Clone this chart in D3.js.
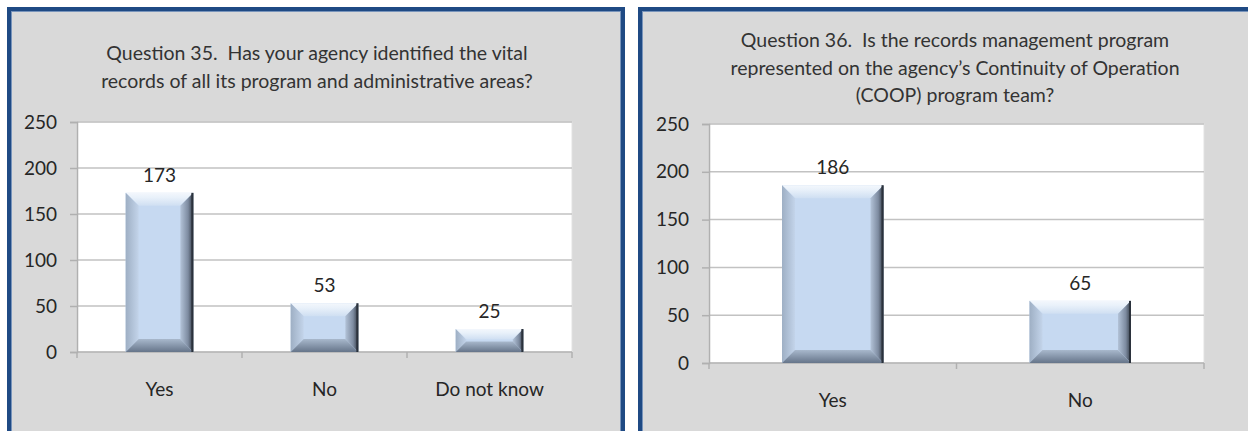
<!DOCTYPE html>
<html>
<head>
<meta charset="utf-8">
<script src="https://cdn.jsdelivr.net/npm/d3@7"></script>
<style>
  body { margin: 0; background: #fff; }
  svg { display: block; }
  text { font-family: Lato, "Open Sans", sans-serif; fill: #262626; }
</style>
</head>
<body>
<svg id="chart" width="1248" height="431"></svg>
<script>
// chart data
const q35Title = ['Question 35.  Has your agency identified the vital',
                  'records of all its program and administrative areas?'];
const q35Categories = ['Yes', 'No', 'Do not know'];
const q35Values = [173, 53, 25];

const q36Title = ['Question 36.  Is the records management program',
                  'represented on the agency\u2019s Continuity of Operation',
                  '(COOP) program team?'];
const q36Categories = ['Yes', 'No'];
const q36Values = [186, 65];

const yTicks = [0, 50, 100, 150, 200, 250];

var svg = d3.select('#chart');
var defs = svg.append('defs');

// gradients for the bevelled bars
function grad(id, x1, y1, x2, y2, stops) {
    var g = defs.append('linearGradient').attr('id', id)
        .attr('x1', x1).attr('y1', y1).attr('x2', x2).attr('y2', y2);
    stops.forEach(function(s) {
        g.append('stop').attr('offset', s[0]).attr('stop-color', s[1]);
    });
}
grad('bevTop', 0, 0, 0, 1, [[0, '#f3f7fc'], [0.35, '#e9f1fa'], [1, '#cfdff2']]);
grad('bevLeft', 0, 0, 1, 0, [[0, '#9eafc4'], [1, '#c3d4ea']]);
grad('bevRight', 0, 0, 1, 0, [[0, '#b3c3d8'], [0.6, '#7d8ba0'], [1, '#333b46']]);
grad('bevBottom', 0, 0, 0, 1, [[0, '#a8b8cc'], [1, '#66758a']]);

function panel(x, w) {
    svg.append('rect').attr('x', x).attr('y', 7).attr('width', w).attr('height', 500)
        .attr('fill', '#1f4a84');
    svg.append('rect').attr('x', x + 4).attr('y', 11).attr('width', w - 8).attr('height', 500)
        .attr('fill', '#7894bb');
    svg.append('rect').attr('x', x + 5).attr('y', 12).attr('width', w - 10).attr('height', 500)
        .attr('fill', '#d9d9d9');
}

function drawChart(cfg) {
    var g = svg.append('g');

    // title
    g.selectAll('.title')
        .data(cfg.title)
        .enter().append('text')
        .attr('class', 'title')
        .attr('x', cfg.titleX)
        .attr('y', (d, i) => cfg.titleY + i * 27.5)
        .attr('text-anchor', 'middle')
        .style('font-size', '19.5px')
        .style('white-space', 'pre')
        .style('fill', '#333')
        .text(d => d);

    var y = d3.scaleLinear().domain([0, 250]).range([cfg.bottom, cfg.top]);
    var xb = d3.scaleBand().domain(cfg.categories).range([cfg.left, cfg.right]).padding(0);
    var x = d3.scaleBand().domain(cfg.categories).range([cfg.left, cfg.right])
        .paddingInner(0.59).paddingOuter(0.295);

    // plot area
    g.append('rect')
        .attr('x', cfg.left).attr('y', cfg.top)
        .attr('width', cfg.right - cfg.left).attr('height', cfg.bottom - cfg.top)
        .attr('fill', '#fff').attr('stroke', '#e2e2e2').attr('stroke-width', 1);

    // gridlines
    g.selectAll('.grid')
        .data(yTicks.filter(t => t > 0))
        .enter().append('line')
        .attr('x1', cfg.left).attr('x2', cfg.right)
        .attr('y1', d => y(d)).attr('y2', d => y(d))
        .attr('stroke', '#c2c2c2').attr('stroke-width', 1.5);

    // y axis
    var yAxis = g.append('g')
        .attr('transform', 'translate(' + cfg.left + ',0)')
        .call(d3.axisLeft(y).tickValues(yTicks).tickSize(7).tickPadding(13));
    yAxis.select('.domain').attr('stroke', '#b0b0b0').attr('stroke-width', 1.5);
    yAxis.selectAll('.tick line').attr('stroke', '#b0b0b0').attr('stroke-width', 1.5);
    yAxis.selectAll('.tick text').style('font-size', '19px')
        .style('font-family', 'Lato, sans-serif').style('fill', '#262626');

    // x axis with ticks on category boundaries
    var bounds = cfg.categories.map(c => xb(c)).concat([cfg.right]);
    g.append('line')
        .attr('x1', cfg.left).attr('x2', cfg.right)
        .attr('y1', cfg.bottom).attr('y2', cfg.bottom)
        .attr('stroke', '#b0b0b0').attr('stroke-width', 1.5);
    g.selectAll('.xtick')
        .data(bounds)
        .enter().append('line')
        .attr('x1', d => d).attr('x2', d => d)
        .attr('y1', cfg.bottom).attr('y2', cfg.bottom + 6)
        .attr('stroke', '#b0b0b0').attr('stroke-width', 1.5);
    g.selectAll('.xlabel')
        .data(cfg.categories)
        .enter().append('text')
        .attr('x', d => xb(d) + xb.bandwidth() / 2)
        .attr('y', cfg.bottom + 44)
        .attr('text-anchor', 'middle')
        .style('font-size', '19px')
        .text(d => d);

    // bevelled bars
    var rows = cfg.categories.map((c, i) => ({ cat: c, val: cfg.values[i] }));
    var bars = g.selectAll('.bar')
        .data(rows)
        .enter().append('g')
        .attr('class', 'bar');

    bars.each(function(d) {
        var x0 = x(d.cat), x1 = x0 + x.bandwidth();
        var y0 = y(d.val), y1 = y(0);
        var b = Math.min(13, (y1 - y0) / 2 - 1, (x1 - x0) / 2 - 1);
        var bar = d3.select(this);
        bar.append('rect').attr('x', x0).attr('y', y0)
            .attr('width', x1 - x0).attr('height', y1 - y0).attr('fill', '#c6d9f1');
        function face(pts, fill) {
            bar.append('polygon').attr('points', pts.map(p => p.join(',')).join(' '))
                .attr('fill', fill);
        }
        face([[x0, y0], [x1, y0], [x1 - b, y0 + b], [x0 + b, y0 + b]], 'url(#bevTop)');
        face([[x0, y0], [x0 + b, y0 + b], [x0 + b, y1 - b], [x0, y1]], 'url(#bevLeft)');
        face([[x1, y0], [x1, y1], [x1 - b, y1 - b], [x1 - b, y0 + b]], 'url(#bevRight)');
        face([[x0, y1], [x0 + b, y1 - b], [x1 - b, y1 - b], [x1, y1]], 'url(#bevBottom)');
        bar.append('line').attr('x1', x1 - 1).attr('x2', x1 - 1).attr('y1', y0).attr('y2', y1)
            .attr('stroke', '#2b323c').attr('stroke-width', 2);
    });

    // data labels
    g.selectAll('.bar-label')
        .data(rows)
        .enter().append('text')
        .attr('class', 'bar-label')
        .attr('x', d => x(d.cat) + x.bandwidth() / 2)
        .attr('y', d => y(d.val) - 11)
        .attr('text-anchor', 'middle')
        .style('font-size', '19px')
        .text(d => d.val);
}

panel(7, 618);
panel(638, 640);

drawChart({
    title: q35Title, titleX: 317, titleY: 60,
    categories: q35Categories, values: q35Values,
    left: 77, right: 572, top: 122, bottom: 352
});
drawChart({
    title: q36Title, titleX: 955, titleY: 47,
    categories: q36Categories, values: q36Values,
    left: 709, right: 1204, top: 124, bottom: 363
});
</script>
</body>
</html>
